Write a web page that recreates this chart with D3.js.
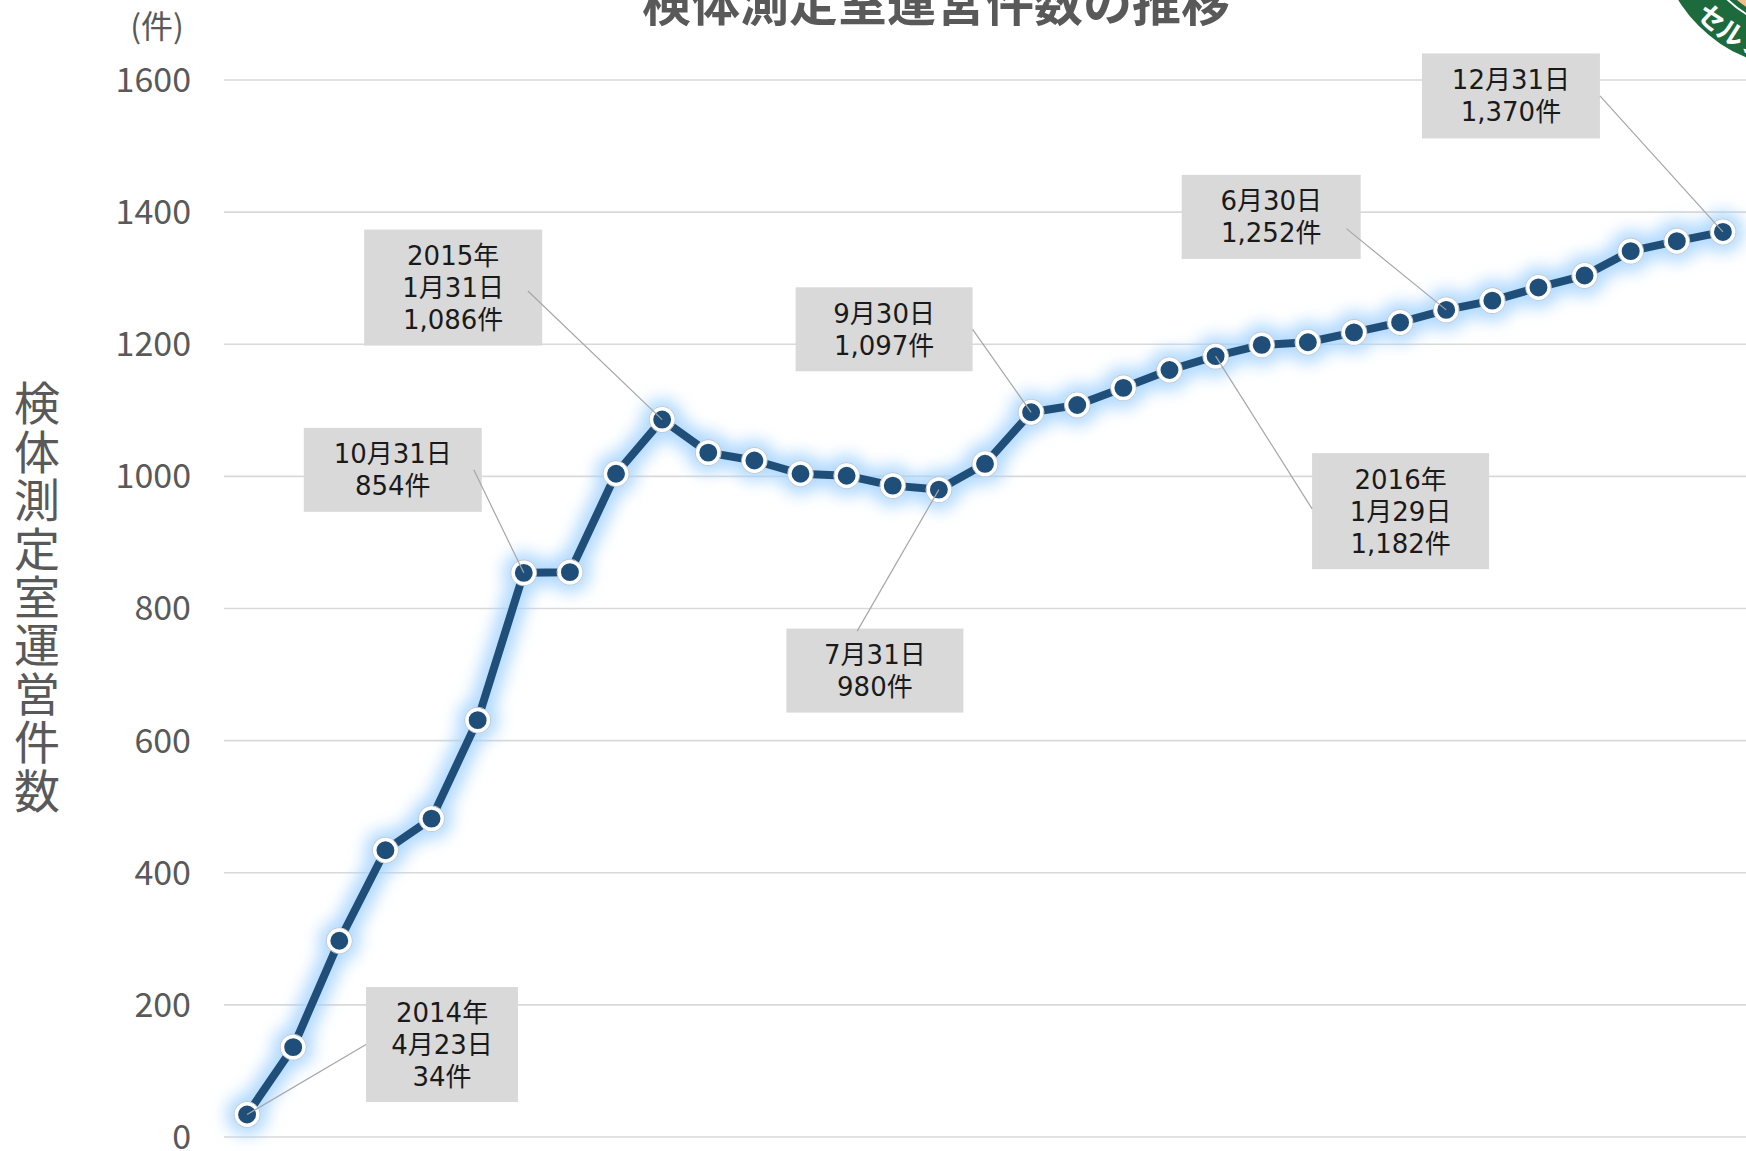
<!DOCTYPE html>
<html>
<head>
<meta charset="utf-8">
<script src="https://cdnjs.cloudflare.com/ajax/libs/d3/7.8.5/d3.min.js"></script>
<style>
body{margin:0;background:#fff;}
svg{display:block;}
text{font-family:"Noto Sans CJK JP",sans-serif;}
.tick-text{fill:#595959;font-size:34px;}
.box-text{font-family:"DejaVu Sans","Noto Sans CJK JP",sans-serif;font-size:26px;fill:#1a1a1a;}
</style>
</head>
<body>
<div id="chart"></div>
<script>
// monthly counts, 2014-04 .. 2016-12
var months = ['2014-04','2014-05','2014-06','2014-07','2014-08','2014-09','2014-10','2014-11','2014-12',
	'2015-01','2015-02','2015-03','2015-04','2015-05','2015-06','2015-07','2015-08','2015-09','2015-10','2015-11','2015-12',
	'2016-01','2016-02','2016-03','2016-04','2016-05','2016-06','2016-07','2016-08','2016-09','2016-10','2016-11','2016-12'];
var counts = [34,136,297,434,482,631,854,855,1004,
	1086,1036,1024,1004,1001,986,980,1019,1097,1108,1134,1161,
	1182,1199,1203,1218,1233,1252,1266,1286,1304,1341,1356,1370];
var yTicks = [0,200,400,600,800,1000,1200,1400,1600];

// data labels
var labelIdx = [0,6,9,15,17,21,26,32];
var labelText = [
	['2014年','4月23日','34件'],
	['10月31日','854件'],
	['2015年','1月31日','1,086件'],
	['7月31日','980件'],
	['9月30日','1,097件'],
	['2016年','1月29日','1,182件'],
	['6月30日','1,252件'],
	['12月31日','1,370件']
];
// box layout: offset of box centre from point, width, height, leader anchor (fraction of box)
var labelLayout = [
	{dx:195, dy:-70, w:152, h:115, ax:0, ay:0.5},
	{dx:-131, dy:-103, w:178, h:84, ax:0.955, ay:0.5},
	{dx:-209, dy:-132, w:178, h:116, ax:0.92, ay:0.53},
	{dx:-64, dy:181, w:177, h:84, ax:0.4, ay:0.03},
	{dx:-147, dy:-83, w:177, h:84, ax:1, ay:0.5},
	{dx:185, dy:155, w:177, h:116, ax:0, ay:0.48},
	{dx:-175, dy:-93, w:179, h:84, ax:0.92, ay:0.64},
	{dx:-212, dy:-136, w:178, h:85, ax:1, ay:0.5}
];

var W = 1746, H = 1151;
var plot = {left:224, right:1746, top:80, bottom:1137};

var svg = d3.select('#chart').append('svg')
	.attr('width', W)
	.attr('height', H);

var x = d3.scalePoint()
	.domain(months)
	.range([plot.left, plot.right])
	.padding(0.5);

var y = d3.scaleLinear()
	.domain([0, 1600])
	.range([plot.bottom, plot.top]);

var defs = svg.append('defs');
var glow = defs.append('filter').attr('id','glow')
	.attr('x','-20%').attr('y','-20%').attr('width','140%').attr('height','140%');
glow.append('feGaussianBlur').attr('stdDeviation', 8);

// logo (top right, cut off)
var logo = svg.append('g').attr('transform','translate(1800,-75)');
logo.append('circle').attr('r',143).attr('fill','#1d6a3d');
logo.append('circle').attr('r',104).attr('fill','none')
	.attr('stroke','#fff').attr('stroke-width',2);
logo.append('circle').attr('r',98).attr('fill','#f2c08c');
var R = 138, a0 = 175*Math.PI/180, a1 = 5*Math.PI/180;
defs.append('path').attr('id','logoArc')
	.attr('d','M'+R*Math.cos(a0)+','+R*Math.sin(a0)+' A'+R+','+R+' 0 0 0 '+R*Math.cos(a1)+','+R*Math.sin(a1));
logo.append('text')
	.attr('fill','#fff')
	.style('font-size','27px')
	.style('font-weight','bold')
	.append('textPath')
		.attr('href','#logoArc')
		.attr('startOffset', 86)
		.text('セルフメディケーション');

// title
svg.append('text')
	.attr('x', 936)
	.attr('y', 21)
	.attr('text-anchor','middle')
	.attr('fill','#595959')
	.style('font-size','49px')
	.style('font-weight','bold')
	.text('検体測定室運営件数の推移');

// gridlines + tick labels
var axes = svg.append('g').attr('class','axes');
axes.selectAll('.grid')
	.data(yTicks)
	.enter().append('line')
		.attr('class','grid')
		.attr('x1', plot.left).attr('x2', plot.right)
		.attr('y1', function(d){ return y(d); })
		.attr('y2', function(d){ return y(d); })
		.attr('stroke','#d9d9d9')
		.attr('stroke-width',1.6);

axes.selectAll('.tick-text')
	.data(yTicks)
	.enter().append('text')
		.attr('class','tick-text')
		.attr('x', 191)
		.attr('y', function(d){ return y(d); })
		.attr('dy','0.35em')
		.attr('text-anchor','end')
		.text(function(d){ return d; });

svg.append('text')
	.attr('x', 157).attr('y', 38)
	.attr('text-anchor','middle')
	.attr('fill','#595959')
	.style('font-size','32px')
	.text('(件)');

// vertical axis title
svg.append('text')
	.attr('x', 37)
	.attr('y', 380)
	.style('writing-mode','vertical-rl')
	.style('font-size','46px')
	.style('letter-spacing','2.4px')
	.attr('fill','#595959')
	.text('検体測定室運営件数');

// series
var pts = months.map(function(m,i){ return [x(m), y(counts[i])]; });
var line = d3.line();

var glowG = svg.append('g').attr('filter','url(#glow)').attr('opacity',0.8);
glowG.append('path')
	.attr('d', line(pts))
	.attr('fill','none')
	.attr('stroke','#9fd0ff')
	.attr('stroke-width',26)
	.attr('stroke-linejoin','round')
	.attr('stroke-linecap','round');
glowG.selectAll('circle')
	.data(pts)
	.enter().append('circle')
		.attr('cx', function(d){ return d[0]; })
		.attr('cy', function(d){ return d[1]; })
		.attr('r', 21)
		.attr('fill','#9fd0ff');

svg.append('path')
	.attr('d', line(pts))
	.attr('fill','none')
	.attr('stroke','#1f4e79')
	.attr('stroke-width',8)
	.attr('stroke-linejoin','round');

var marks = svg.append('g').selectAll('g')
	.data(pts)
	.enter().append('g')
		.attr('transform', function(d){ return 'translate('+d[0]+','+d[1]+')'; });
marks.append('circle').attr('r',12.9)
	.attr('fill','none').attr('stroke','#c6c6c6').attr('stroke-width',1);
marks.append('circle').attr('r',10.7)
	.attr('fill','#1f4e79').attr('stroke','#fff').attr('stroke-width',3.5);

// data label boxes + leaders
labelIdx.forEach(function(idx, k){
	var p = pts[idx], L = labelLayout[k], lines = labelText[k];
	var bx = p[0] + L.dx - L.w/2, by = p[1] + L.dy - L.h/2;
	var g = svg.append('g');
	g.append('rect')
		.attr('x', bx).attr('y', by)
		.attr('width', L.w).attr('height', L.h)
		.attr('fill','#d9d9d9');
	var lh = 32, top = p[1] + L.dy - (lines.length-1)*lh/2;
	g.selectAll('text')
		.data(lines)
		.enter().append('text')
			.attr('class','box-text')
			.attr('x', p[0] + L.dx)
			.attr('y', function(d,i){ return top + i*lh; })
			.attr('dy','0.36em')
			.attr('text-anchor','middle')
			.text(function(d){ return d; });
	g.append('line')
		.attr('x1', bx + L.ax*L.w).attr('y1', by + L.ay*L.h)
		.attr('x2', p[0]).attr('y2', p[1])
		.attr('stroke','#a6a6a6')
		.attr('stroke-width',1.2);
});
</script>
</body>
</html>
